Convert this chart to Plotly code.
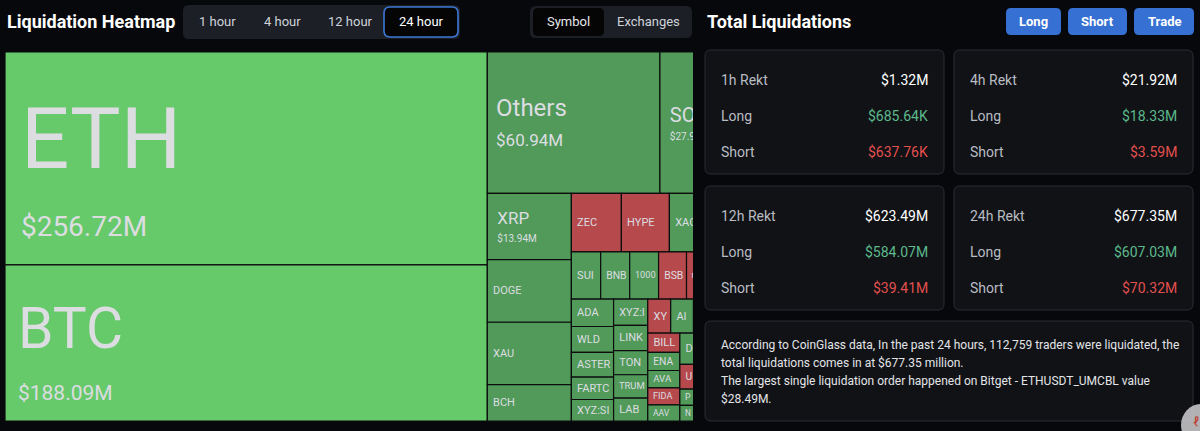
#!/usr/bin/env python3
"""CoinGlass-style liquidation heatmap (24h) with the totals panel, in Plotly."""

import plotly.graph_objects as go

W, H = 1200, 431
BG = '#07080b'
FONT = 'Roboto, Arial, sans-serif'

# --- treemap data: 24h liquidations per symbol, $M (largest first) ------------
# side: 'L' = mostly longs liquidated (green), 'S' = mostly shorts (red)
symbols = [
    'ETH', 'BTC', 'Others', 'SOL', 'XRP', 'DOGE', 'XAU', 'BCH', 'ZEC', 'HYPE',
    'XAG', 'LTC', 'SUI', 'BNB', '1000PEPE', 'BSB', 'MON', 'XPL',
    'ADA', 'WLD', 'ASTER', 'FARTCOIN', 'XYZ:SILVER',
    'XYZ:XYZ100', 'LINK', 'TON', 'TRUMP', 'LAB',
    'XYZ:TSLA', 'AIA', 'TAO', 'APT',
    'BILL', 'ENA', 'AVAX', 'FIDA', 'AAVE',
    'DOT', 'ARB', 'OP', 'WIF', 'UNI', 'PENGU', 'NEAR',
    'rest',  # long tail of small coins, lumped; it sits under the right panel
]
values = [
    256.72, 188.09, 60.94, 27.93, 13.94, 13.15, 13.10, 7.65, 7.33, 7.04,
    5.50, 4.70, 3.45, 3.42, 3.40, 3.29, 3.12, 3.06,
    2.90, 2.72, 2.62, 2.36, 2.27,
    2.25, 2.15, 2.07, 1.99, 1.96,
    1.95, 1.94, 1.94, 1.93,
    1.55, 1.45, 1.40, 1.35, 1.30,
    1.27, 1.15, 1.12, 1.10, 0.94, 0.62, 0.60,
    6.20,
]
sides = [
    'L', 'L', 'L', 'L', 'L', 'L', 'L', 'L', 'S', 'S',
    'L', 'L', 'L', 'L', 'L', 'S', 'S', 'L',
    'L', 'L', 'L', 'L', 'L',
    'L', 'L', 'L', 'L', 'L',
    'S', 'L', 'L', 'L',
    'S', 'L', 'L', 'S', 'L',
    'L', 'L', 'L', 'L', 'S', 'L', 'L',
    'L',
]
# labels the site clips at the cell edge
shown_as = {
    '1000PEPE': '1000', 'FARTCOIN': 'FARTC', 'XYZ:SILVER': 'XYZ:SI',
    'XYZ:XYZ100': 'XYZ:I', 'XYZ:TSLA': 'XY', 'AIA': 'AI', 'TRUMP': 'TRUM',
    'AVAX': 'AVA', 'AAVE': 'AAV', 'DOT': 'D', 'UNI': 'U', 'PENGU': 'P',
    'NEAR': 'N',
}
# cells whose labels are covered by the right-hand panel
under_panel = {'LTC', 'XPL', 'TAO', 'APT', 'ARB', 'OP', 'WIF', 'rest'}

# --- totals panel ------------------------------------------------------------
periods = ['1h', '4h', '12h', '24h']
rekt_total = [1.32, 21.92, 623.49, 677.35]
rekt_long = [0.68564, 18.33, 584.07, 607.03]
rekt_short = [0.63776, 3.59, 39.41, 70.32]
tabs = ['1 hour', '4 hour', '12 hour', '24 hour']
summary = [
    'According to CoinGlass data, In the past 24 hours, 112,759 traders were liquidated, the',
    'total liquidations comes in at $677.35 million.',
    'The largest single liquidation order happened on Bitget - ETHUSDT_UMCBL value',
    '$28.49M.',
]

GREEN_BIG = '#66c96a'
GREEN = '#519a59'
RED = '#b5494c'
TXT = '#dcdde1'

# label size, value size, base size (line gap), indent nbsp count, top spacer size
BIG_LABELS = {
    'ETH': (85, 28, 52, 1, 36),
    'BTC': (57, 21, 40, 1, 22),
    'Others': (24, 17, 23, 1, 0),
    'SOL': (20, 10, 14, 2, 0),
    'XRP': (17, 10, 14, 2, 0),
}


def money(v):
    return f'${v * 1000:.2f}K' if v < 1 else f'${v:.2f}M'


def px(x):
    return x / W


def py(y):
    return 1 - y / H


def rrect(x0, y0, x1, y1, r, fill, line=None, lw=0):
    p = (f'M{px(x0 + r)},{py(y0)} L{px(x1 - r)},{py(y0)} Q{px(x1)},{py(y0)} {px(x1)},{py(y0 + r)} '
         f'L{px(x1)},{py(y1 - r)} Q{px(x1)},{py(y1)} {px(x1 - r)},{py(y1)} '
         f'L{px(x0 + r)},{py(y1)} Q{px(x0)},{py(y1)} {px(x0)},{py(y1 - r)} '
         f'L{px(x0)},{py(y0 + r)} Q{px(x0)},{py(y0)} {px(x0 + r)},{py(y0)} Z')
    return dict(type='path', xref='paper', yref='paper', path=p, layer='above',
                fillcolor=fill, line=dict(color=line or fill, width=lw))


def label(x, y, text, size=14, color=TXT, anchor='left', bold=False, fam=FONT):
    if bold:
        text = f'<b>{text}</b>'
    return dict(x=px(x), y=py(y), xref='paper', yref='paper', text=text,
                showarrow=False, xanchor=anchor, yanchor='middle',
                font=dict(size=size, color=color, family=fam))


def main():
    # treemap cells
    ids, labels, parents, vals, colors, texts, sizes = ['root'], [''], [''], [0], [BG], [''], [11]
    for sym, v, side in zip(symbols, values, sides):
        ids.append(sym)
        labels.append(sym)
        parents.append('root')
        vals.append(v)
        if side == 'S':
            colors.append(RED)
        else:
            colors.append(GREEN_BIG if v > 100 else GREEN)
        if sym in BIG_LABELS:
            ls, vs, base, ind, spacer = BIG_LABELS[sym]
            pad = '\u00a0' * ind
            # an empty first line nudges the block down inside the cell
            top = f"<span style='font-size:{spacer}px'>\u00a0</span><br>" if spacer else ''
            texts.append(f"{top}{pad}<span style='font-size:{ls}px'>{sym}</span><br>"
                         f"{pad}<span style='font-size:{vs}px'>${v:.2f}M</span>")
            sizes.append(base)
        elif sym in under_panel:
            texts.append('')
            sizes.append(11)
        else:
            texts.append('\u00a0' + shown_as.get(sym, sym))
            sizes.append(11)

    fig = go.Figure(go.Treemap(
        ids=ids, labels=labels, parents=parents, values=vals,
        branchvalues='remainder', sort=False,
        text=texts, textinfo='text', textposition='middle left',
        textfont=dict(family=FONT, size=sizes, color=TXT),
        marker=dict(colors=colors, line=dict(width=1.2, color='#0c0d0f'),
                    pad=dict(t=0, l=0, r=0, b=0)),
        tiling=dict(packing='squarify', squarifyratio=1.618, pad=0),
        pathbar=dict(visible=False),
        root=dict(color=BG),
        hoverinfo='skip',
        domain=dict(x=[px(5), px(739)], y=[py(421), py(52)]),
    ))

    shapes = [
        # the right panel covers the tail of the heatmap
        dict(type='rect', xref='paper', yref='paper', x0=px(693), x1=1, y0=0, y1=1,
             fillcolor=BG, line=dict(width=0), layer='above'),
        # time range tabs
        rrect(183, 5, 460, 39, 6, '#1c1f26'),
        rrect(384, 7, 458, 37, 6, '#050506', '#3b78d6', 1.6),
        # symbol / exchanges toggle
        rrect(530, 6, 692, 38, 6, '#1c1f26'),
        rrect(533, 8, 604, 36, 5, '#050506'),
        # Long / Short / Trade
        rrect(1006, 8, 1061, 35, 5, '#3570d2'),
        rrect(1068, 8, 1127, 35, 5, '#3570d2'),
        rrect(1134, 8, 1194, 35, 5, '#3570d2'),
        # summary box
        rrect(705, 321, 1193, 421, 6, '#101216', '#2a2d34', 1),
        # floating help icon
        dict(type='circle', xref='paper', yref='paper', x0=px(1181), x1=px(1221),
             y0=py(446), y1=py(404), fillcolor='#cfcfd2', opacity=0.85,
             line=dict(width=0), layer='above'),
    ]

    ann = [
        label(5, 22, 'Liquidation Heatmap', 18, '#ffffff', bold=True),
        label(705, 21, 'Total Liquidations', 18, '#ffffff', bold=True),
        label(568, 22, 'Symbol', 13, '#e6e8ec', 'center'),
        label(648, 22, 'Exchanges', 13, '#cfd3da', 'center'),
        label(1033, 21, 'Long', 13, '#ffffff', 'center', True),
        label(1097, 21, 'Short', 13, '#ffffff', 'center', True),
        label(1164, 21, 'Trade', 13, '#ffffff', 'center', True),
        label(1191, 421, 'ℓ', 13, '#c0392b', 'left'),
    ]
    for tab, cx in zip(tabs, [217, 282, 350, 421]):
        ann.append(label(cx, 22, tab, 13, '#ffffff' if tab == '24 hour' else '#cfd3da', 'center'))

    # rekt cards, 2 x 2
    for i, per in enumerate(periods):
        x0 = 705 if i % 2 == 0 else 954
        y0 = 50 if i < 2 else 186
        x1 = x0 + 239
        shapes.append(rrect(x0, y0, x1, y0 + 124, 6, '#101216', '#2a2d34', 1))
        ann += [
            label(x0 + 14, y0 + 30, f'{per} Rekt', 14, '#b9bcc3'),
            label(x1 - 14, y0 + 30, money(rekt_total[i]), 14, '#ffffff', 'right'),
            label(x0 + 14, y0 + 66, 'Long', 14, '#b9bcc3'),
            label(x1 - 14, y0 + 66, money(rekt_long[i]), 14, '#5cb98c', 'right'),
            label(x0 + 14, y0 + 102, 'Short', 14, '#b9bcc3'),
            label(x1 - 14, y0 + 102, money(rekt_short[i]), 14, '#e2504e', 'right'),
        ]

    for j, line in enumerate(summary):
        ann.append(label(719, 345 + j * 18, line, 12, '#e4e5e8'))

    fig.update_layout(
        width=W, height=H,
        margin=dict(t=0, l=0, r=0, b=0),
        paper_bgcolor=BG, plot_bgcolor=BG,
        shapes=shapes, annotations=ann,
        showlegend=False,
    )
    # page body has a default 8px margin; drop it so the figure fills the window
    fig.write_html('out.html', config={'displayModeBar': False},
                   post_script="document.body.style.margin='0';"
                               f"document.body.style.background='{BG}';")


if __name__ == '__main__':
    main()
